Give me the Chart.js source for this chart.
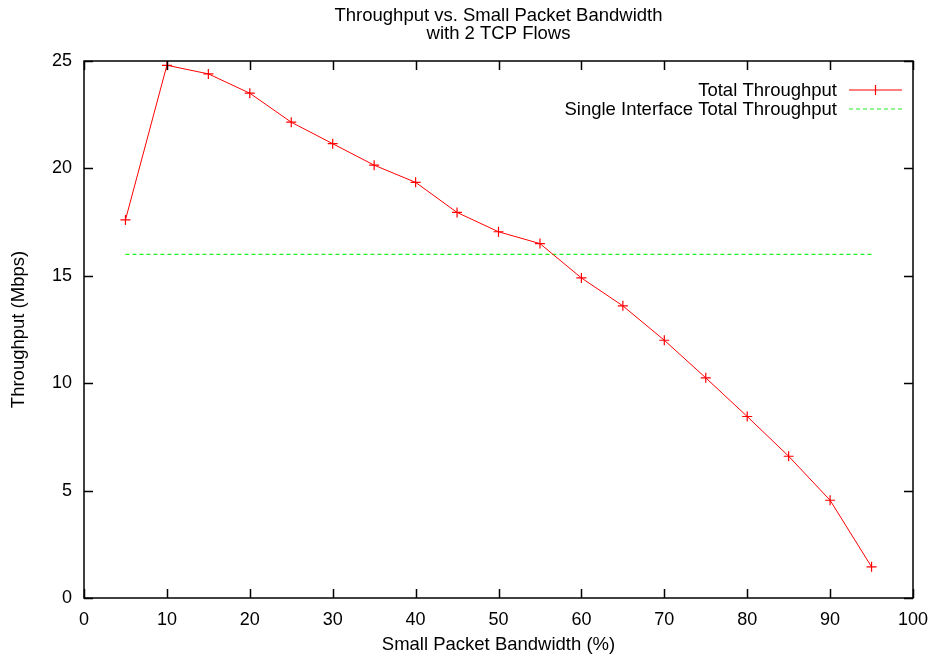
<!DOCTYPE html>
<html>
<head>
<meta charset="utf-8">
<script src="https://cdn.jsdelivr.net/npm/chart.js@4/dist/chart.umd.min.js"></script>
<style>
  html, body { margin: 0; padding: 0; background: #fff; }
  #wrap { width: 933px; height: 655px; }
</style>
</head>
<body>
<div id="wrap"><canvas id="c" width="933" height="655"></canvas></div>
<script>
// Small packet bandwidth share (%)
const bandwidth = [5, 10, 15, 20, 25, 30, 35, 40, 45, 50, 55, 60, 65, 70, 75, 80, 85, 90, 95];
// Total throughput with two TCP flows (Mbps)
const totalThroughput = [17.6, 24.8, 24.4, 23.5, 22.15, 21.15, 20.15, 19.35, 17.95, 17.05, 16.5,
                         14.9, 13.6, 12.0, 10.25, 8.45, 6.6, 4.55, 1.45];
// Single interface reference level (Mbps), drawn across the measured range
const singleRange = [5, 95];
const singleThroughput = [16, 16];

const titleLines = ['Throughput vs. Small Packet Bandwidth', 'with 2 TCP Flows'];
const xTitle = 'Small Packet Bandwidth (%)';
const yTitle = 'Throughput (Mbps)';
const seriesNames = ['Total Throughput', 'Single Interface Total Throughput'];

const FONT = "'Liberation Sans', Arial, Helvetica, sans-serif";
const RED = '#ff0000';
const GREEN = '#22ee22';

// gnuplot-style frame, inward ticks on all sides, titles and key
const framePlugin = {
  id: 'frame',
  afterDraw(chart) {
    const { ctx, chartArea: a, scales } = chart;
    ctx.save();
    ctx.strokeStyle = '#000';
    ctx.lineWidth = 1.5;
    ctx.strokeRect(a.left, a.top, a.right - a.left, a.bottom - a.top);
    const tl = 9;
    ctx.beginPath();
    scales.x.ticks.forEach(t => {
      const px = Math.round(scales.x.getPixelForValue(t.value)) + 0.5;
      ctx.moveTo(px, a.bottom); ctx.lineTo(px, a.bottom - tl);
      ctx.moveTo(px, a.top); ctx.lineTo(px, a.top + tl);
    });
    scales.y.ticks.forEach(t => {
      const py = Math.round(scales.y.getPixelForValue(t.value)) + 0.5;
      ctx.moveTo(a.left, py); ctx.lineTo(a.left + tl, py);
      ctx.moveTo(a.right, py); ctx.lineTo(a.right - tl, py);
    });
    ctx.stroke();

    ctx.fillStyle = '#000';
    ctx.font = '18.5px ' + FONT;
    ctx.textAlign = 'center';
    ctx.textBaseline = 'middle';
    const cx = (a.left + a.right) / 2;
    ctx.fillText(titleLines[0], cx, 16);
    ctx.fillText(titleLines[1], cx, 34);

    ctx.fillText(xTitle, cx, 645);
    ctx.save();
    ctx.translate(19, (a.top + a.bottom) / 2);
    ctx.rotate(-Math.PI / 2);
    ctx.fillText(yTitle, 0, 0);
    ctx.restore();

    // key
    ctx.textAlign = 'right';
    const textRight = 837, x0 = 849, x1 = 902;
    const rows = [91, 110];
    ctx.fillText(seriesNames[0], textRight, rows[0]);
    ctx.fillText(seriesNames[1], textRight, rows[1]);
    ctx.lineWidth = 1.2;
    ctx.strokeStyle = RED;
    ctx.beginPath();
    ctx.moveTo(x0, rows[0] - 1); ctx.lineTo(x1, rows[0] - 1);
    const mx = (x0 + x1) / 2;
    ctx.moveTo(mx, rows[0] - 6); ctx.lineTo(mx, rows[0] + 4);
    ctx.stroke();
    ctx.strokeStyle = GREEN;
    ctx.setLineDash([4, 3]);
    ctx.beginPath();
    ctx.moveTo(x0, rows[1] - 1); ctx.lineTo(x1, rows[1] - 1);
    ctx.stroke();
    ctx.restore();
  }
};

new Chart(document.getElementById('c'), {
  type: 'line',
  data: {
    datasets: [
      {
        label: seriesNames[0],
        data: bandwidth.map((b, i) => ({ x: b, y: totalThroughput[i] })),
        borderColor: RED,
        backgroundColor: RED,
        borderWidth: 1,
        pointStyle: 'cross',
        pointRadius: 5,
        pointBorderWidth: 1.2,
        pointBorderColor: RED,
        tension: 0
      },
      {
        label: seriesNames[1],
        data: singleRange.map((b, i) => ({ x: b, y: singleThroughput[i] })),
        borderColor: GREEN,
        borderWidth: 1.2,
        borderDash: [4, 3],
        pointRadius: 0,
        tension: 0
      }
    ]
  },
  options: {
    responsive: false,
    animation: false,
    devicePixelRatio: 1,
    layout: { padding: { top: 61, right: 20, left: 0, bottom: 0 } },
    plugins: { legend: { display: false }, title: { display: false }, tooltip: { enabled: false } },
    scales: {
      x: {
        type: 'linear', min: 0, max: 100,
        grid: { display: false }, border: { display: false },
        ticks: { stepSize: 10, color: '#000', font: { family: FONT, size: 18 }, padding: 3, maxRotation: 0 },
        afterFit(s) { s.height = 57; }
      },
      y: {
        type: 'linear', min: 0, max: 25,
        grid: { display: false }, border: { display: false },
        ticks: { stepSize: 5, color: '#000', font: { family: FONT, size: 18 }, padding: 4 },
        afterFit(s) { s.width = 84; }
      }
    }
  },
  plugins: [framePlugin]
});
</script>
</body>
</html>
